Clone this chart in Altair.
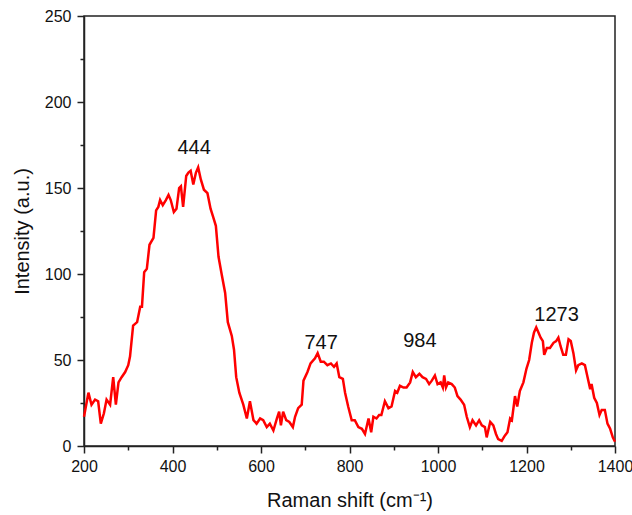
import altair as alt
import pandas as pd

# Raman spectrum trace (shift in cm^-1, intensity in a.u.)
shift = [
    200, 210, 217, 225, 232, 238, 245, 251, 259, 266, 272, 278, 285, 293, 300,
    304, 311, 320, 327, 331, 336, 342, 348, 357, 363, 368, 372, 378, 385, 391,
    396, 403, 409, 415, 419, 424, 431, 436, 441, 447, 453, 458, 464, 471, 479,
    486, 492, 498, 504, 511, 519, 525, 534, 539, 544, 551,
    560, 568, 575, 583, 590, 598, 605, 613, 620, 628, 636, 641, 645, 650, 657,
    664, 672, 677, 684, 692, 696, 705, 712, 722, 728, 735, 742, 750, 758, 765,
    771, 777, 785, 790, 797, 805, 812, 820, 828, 835, 843, 849, 854, 861, 867,
    872, 880, 888, 895, 903, 908, 914, 922, 929, 937, 943, 950, 958, 965, 973,
    980, 986, 993, 999, 1006, 1011, 1014, 1018, 1023, 1031, 1038, 1044, 1051,
    1059, 1065, 1072, 1078, 1086, 1093, 1099, 1106, 1110, 1118, 1125, 1131,
    1136, 1144, 1151, 1157, 1163, 1167, 1174, 1179, 1185, 1193, 1200, 1206,
    1212, 1217, 1222, 1227, 1232, 1237, 1240, 1246, 1253, 1261, 1267, 1272,
    1277, 1283, 1289, 1295, 1300, 1306, 1312, 1317, 1325, 1332, 1338, 1344,
    1347, 1353, 1359, 1365, 1370, 1377, 1383, 1389, 1395, 1400,
]
intensity = [
    17, 31, 24, 27, 26, 13, 19, 27, 24, 40, 24, 37, 40, 43, 47,
    52, 70, 72, 81, 81, 101, 103, 117, 121, 137, 139, 143, 140, 143, 146,
    143, 136, 138, 150, 151, 139, 157, 159, 160, 152, 159, 162, 155, 149, 147,
    138, 133, 128, 110, 100, 89, 72, 64, 56, 40, 31,
    24, 16, 26, 15, 13, 16, 15, 11, 13, 9, 16, 20, 12, 20, 15,
    14, 11, 17, 22, 24, 38, 43, 48, 51, 54, 49, 49, 47, 48, 46,
    48, 40, 39, 31, 23, 15, 15, 11, 10, 7, 16, 8, 17, 16, 18,
    18, 26, 22, 23, 32, 31, 35, 34, 34, 37, 43, 40, 42, 40, 39,
    36, 38, 41, 36, 37, 34, 41, 34, 37, 36, 34, 29, 27,
    24, 17, 11, 15, 12, 15, 12, 11, 5, 14, 12, 7,
    4, 3, 6, 8, 16, 15, 29, 23, 32, 37, 45, 50,
    60, 66, 69, 66, 63, 61, 53, 57, 57, 60, 61, 63,
    58, 53, 53, 62, 61, 54, 44, 47, 48, 47, 40, 33,
    36, 28, 25, 18, 21, 21, 13, 10, 5, 2.5,
]

# Peak annotations
peak_labels = ["444", "747", "984", "1273"]
peak_x = [449, 736, 959, 1268]
peak_y = [173, 60, 61, 76]

x_ticks = [200, 300, 400, 500, 600, 700, 800, 900, 1000, 1100, 1200, 1300, 1400]
y_ticks = [0, 25, 50, 75, 100, 125, 150, 175, 200, 225, 250]

spectrum = pd.DataFrame({"shift": shift, "intensity": intensity})
peaks = pd.DataFrame({"label": peak_labels, "shift": peak_x, "intensity": peak_y})

FONT = "Liberation Sans"

x_scale = alt.Scale(domain=[200, 1400], nice=False, zero=False)
y_scale = alt.Scale(domain=[0, 250], nice=False)

x_axis = alt.Axis(
    values=x_ticks,
    format="d",
    labelExpr="datum.value % 200 === 0 ? datum.label : ''",
    tickSize={"condition": {"test": "datum.value % 200 === 0", "value": 7}, "value": 4},
    labelPadding=5,
    labelFlush=False,
    labelOverlap=False,
    titlePadding=16,
    grid=False,
)
y_axis = alt.Axis(
    values=y_ticks,
    format="d",
    labelExpr="datum.value % 50 === 0 ? datum.label : ''",
    tickSize={"condition": {"test": "datum.value % 50 === 0", "value": 7}, "value": 4},
    labelPadding=6,
    labelFlush=False,
    labelOverlap=False,
    titlePadding=12,
    grid=False,
)

line = alt.Chart(spectrum).mark_line(color="#ff0000", strokeWidth=2.5).encode(
    x=alt.X("shift:Q", scale=x_scale, axis=x_axis, title="Raman shift (cm⁻¹)"),
    y=alt.Y("intensity:Q", scale=y_scale, axis=y_axis, title="Intensity (a.u.)"),
)

labels = alt.Chart(peaks).mark_text(
    font=FONT, fontSize=20, color="#111111", align="center", baseline="middle"
).encode(
    x=alt.X("shift:Q", scale=x_scale),
    y=alt.Y("intensity:Q", scale=y_scale),
    text="label:N",
)

chart = (
    alt.layer(line, labels)
    .properties(
        width=531,
        height=430,
        padding={"left": 84, "top": 16, "right": 17, "bottom": 69},
        autosize=alt.AutoSizeParams(type="none"),
        background="white",
    )
    .configure_view(stroke="#222222", strokeWidth=1.5)
    .configure_axis(
        domainColor="#222222",
        domainWidth=1.5,
        tickColor="#222222",
        tickWidth=1.5,
        labelFont=FONT,
        labelFontSize=16,
        labelColor="#111111",
        titleFont=FONT,
        titleFontSize=20,
        titleFontWeight="normal",
        titleColor="#111111",
    )
)

chart.save("out.html", embed_options={"renderer": "svg", "actions": False})
